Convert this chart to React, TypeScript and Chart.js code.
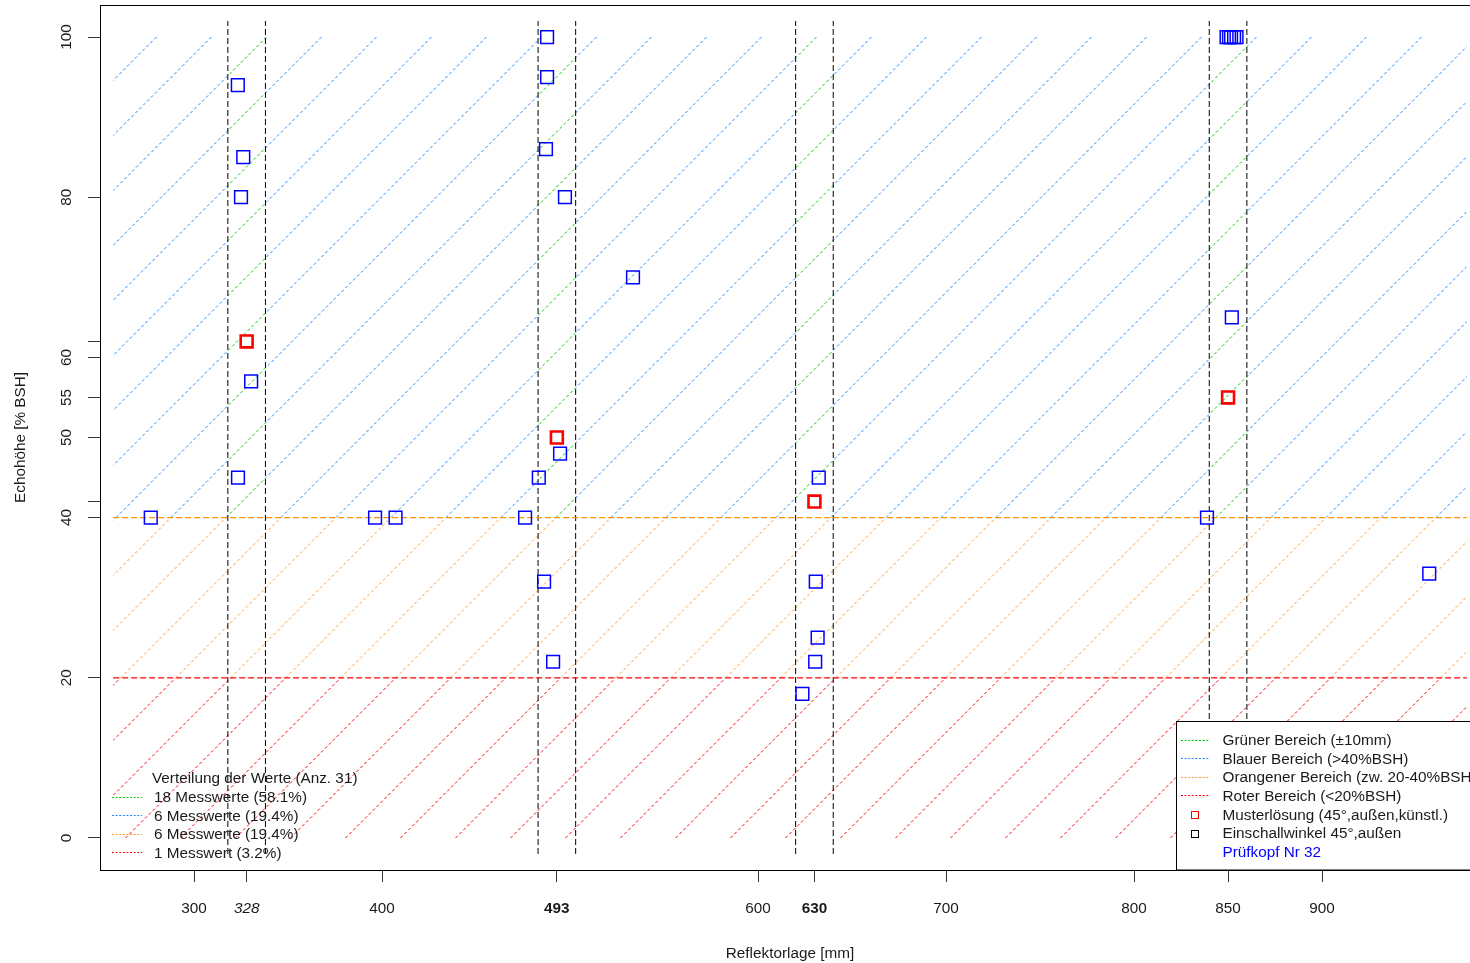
import React, { useEffect, useRef } from 'react';
import { Chart, registerables } from 'chart.js';

Chart.register(...registerables);

const FONT = '"Liberation Sans", Arial, Helvetica, sans-serif';
const TEXT_COLOR = '#1a1a1a';
const FONT_SIZE = 15.3;

// reference reflector positions (mm) and tolerance (±mm)
const REF_POSITIONS = [328, 493, 630, 850];
const TOLERANCE_MM = 10;

// measured values (Einschallwinkel 45°, außen)
const MEASURED_X = [
  277, 323.3, 326.2, 325, 330.4, 323.4,
  396.3, 407.2, 476.1, 487.8, 487.8, 487.2, 497.3, 533.5, 483.4, 494.7, 486.2, 491,
  632.3, 630.7, 631.7, 630.4, 623.6,
  849.2, 850.5, 851.6, 853.2, 854.5, 852, 838.8, 957,
];
const MEASURED_Y = [
  40, 94, 85, 80, 57, 45,
  40, 40, 40, 100, 95, 86, 80, 70, 45, 48, 32, 22,
  45, 32, 25, 22, 18,
  100, 100, 100, 100, 100, 65, 40, 33,
];

// sample solution (Musterlösung)
const SAMPLE_X = [328, 493, 630, 850];
const SAMPLE_Y = [62, 50, 42, 55];

const X_TICKS = [300, 328, 400, 493, 600, 630, 700, 800, 850, 900];
const X_TICK_LABELS = ['300', '328', '400', '493', '600', '630', '700', '800', '850', '900'];
const X_TICK_BOLD = [493, 630];
const X_TICK_ITALIC = [328];
const Y_TICKS = [0, 20, 40, 42, 50, 55, 60, 62, 80, 100];
const Y_TICK_LABELS = ['0', '20', '40', '', '50', '55', '60', '', '80', '100'];

const X_LIMITS = [250, 984];
const Y_LIMITS = [-4, 104];
const REGION_X = [257, 977];
const LEVEL_TOP = 100;
const LEVEL_BLUE = 40;
const LEVEL_RED = 20;
const LEVEL_BOTTOM = 0;
const REF_LINE_Y = [-2, 102];

const X_TITLE = 'Reflektorlage [mm]';
const Y_TITLE = 'Echohöhe [% BSH]';

const LEGEND_LEFT_TITLE = 'Verteilung der Werte (Anz. 31)';
const LEGEND_LEFT_LABELS = ['18 Messwerte (58.1%)', '6 Messwerte (19.4%)', '6 Messwerte (19.4%)', '1 Messwert (3.2%)'];
const LEGEND_RIGHT_LABELS = [
  'Grüner Bereich (±10mm)',
  'Blauer Bereich (>40%BSH)',
  'Orangener Bereich (zw. 20-40%BSH)',
  'Roter Bereich (<20%BSH)',
  'Musterlösung (45°,außen,künstl.)',
  'Einschallwinkel 45°,außen',
  'Prüfkopf Nr 32',
];

const C_GREEN = '#00cc00';
const C_BLUE_HATCH = '#1e88ff';
const C_ORANGE_HATCH = '#ff9a30';
const C_ORANGE_LINE = '#ff9000';
const C_RED = '#ff0000';
const C_POINT = '#0000ff';

const HATCH_SPACING = 55;
const HATCH_PHASE = 28.5;

function hatch(ctx: CanvasRenderingContext2D, r: number[], holes: number[][], color: string) {
  const [x0, y0, x1, y1] = r;
  ctx.save();
  ctx.beginPath();
  ctx.rect(x0, y0, x1 - x0, y1 - y0);
  holes.forEach((h) => ctx.rect(h[0], h[1], h[2] - h[0], h[3] - h[1]));
  ctx.clip('evenodd');
  ctx.strokeStyle = color;
  ctx.lineWidth = 1;
  ctx.setLineDash([3, 2.5]);
  ctx.beginPath();
  const cMin = x0 + y0;
  const cMax = x1 + y1;
  let c = Math.ceil((cMin - HATCH_PHASE) / HATCH_SPACING) * HATCH_SPACING + HATCH_PHASE;
  for (; c <= cMax + 1; c += HATCH_SPACING) {
    ctx.moveTo(c - y1, y1);
    ctx.lineTo(c - y0, y0);
  }
  ctx.stroke();
  ctx.restore();
}

const hatchPlugin = {
  id: 'rHatch',
  beforeDatasetsDraw(chart: any) {
    const { ctx } = chart;
    const xs = chart.scales.x;
    const ys = chart.scales.y;
    const X0 = xs.getPixelForValue(REGION_X[0]);
    const X1 = xs.getPixelForValue(REGION_X[1]);
    const yTop = ys.getPixelForValue(LEVEL_TOP);
    const yB = ys.getPixelForValue(LEVEL_BLUE);
    const yR = ys.getPixelForValue(LEVEL_RED);
    const yBot = ys.getPixelForValue(LEVEL_BOTTOM);
    const bands = REF_POSITIONS.map((p) => [
      xs.getPixelForValue(p - TOLERANCE_MM), yTop, xs.getPixelForValue(p + TOLERANCE_MM), yB,
    ]);
    hatch(ctx, [X0, yTop, X1, yB], bands, C_BLUE_HATCH);
    bands.forEach((b) => hatch(ctx, b, [], C_GREEN));
    hatch(ctx, [X0, yB, X1, yR], [], C_ORANGE_HATCH);
    hatch(ctx, [X0, yR, X1, yBot], [], C_RED);
  },
};

function sampleLine(ctx: CanvasRenderingContext2D, x0: number, x1: number, y: number, color: string) {
  ctx.save();
  ctx.strokeStyle = color;
  ctx.lineWidth = 1;
  ctx.setLineDash([2, 1.6]);
  ctx.beginPath();
  ctx.moveTo(x0, Math.round(y) + 0.5);
  ctx.lineTo(x1, Math.round(y) + 0.5);
  ctx.stroke();
  ctx.restore();
}

const decorPlugin = {
  id: 'rDecor',
  afterDraw(chart: any) {
    const { ctx, chartArea } = chart;
    const ys = chart.scales.y;
    const { left, right, top, bottom } = chartArea;
    ctx.save();
    // box
    ctx.strokeStyle = '#000';
    ctx.lineWidth = 1;
    ctx.setLineDash([]);
    ctx.strokeRect(left + 0.5, top + 0.5, right - left, bottom - top);

    ctx.fillStyle = TEXT_COLOR;
    ctx.font = `${FONT_SIZE}px ${FONT}`;
    // y tick labels (rotated, R style)
    ys.ticks.forEach((t: any) => {
      const lab = Y_TICK_LABELS[Y_TICKS.indexOf(t.value)] ?? '';
      if (!lab) return;
      const py = ys.getPixelForValue(t.value);
      ctx.save();
      ctx.translate(left - 33, py);
      ctx.rotate(-Math.PI / 2);
      ctx.textAlign = 'center';
      ctx.textBaseline = 'middle';
      ctx.fillText(lab, 0, 0);
      ctx.restore();
    });
    // axis titles
    ctx.save();
    ctx.translate(left - 79, (top + bottom) / 2);
    ctx.rotate(-Math.PI / 2);
    ctx.textAlign = 'center';
    ctx.textBaseline = 'middle';
    ctx.fillText(Y_TITLE, 0, 0);
    ctx.restore();
    ctx.textAlign = 'center';
    ctx.textBaseline = 'middle';
    ctx.fillText(X_TITLE, (left + right) / 2, bottom + 84);

    // left legend (no box)
    ctx.textAlign = 'left';
    ctx.fillText(LEGEND_LEFT_TITLE, left + 52, bottom - 91);
    const leftColors = [C_GREEN, C_BLUE_HATCH, C_ORANGE_HATCH, C_RED];
    LEGEND_LEFT_LABELS.forEach((lab, i) => {
      const y = bottom - 72 + i * 18.6;
      sampleLine(ctx, left + 12, left + 42, y - 1.5, leftColors[i]);
      ctx.fillStyle = TEXT_COLOR;
      ctx.fillText(lab, left + 54, y);
    });

    // right legend (boxed)
    const bx = 1176.5;
    const by = 721.5;
    ctx.fillStyle = '#fff';
    ctx.fillRect(bx, by, chart.width - bx + 5, bottom - by);
    ctx.strokeStyle = '#000';
    ctx.lineWidth = 1;
    ctx.strokeRect(bx, by, chart.width - bx + 5, bottom - by);
    const rightColors = [C_GREEN, C_BLUE_HATCH, C_ORANGE_HATCH, C_RED];
    LEGEND_RIGHT_LABELS.forEach((lab, i) => {
      const y = 741 + i * 18.6;
      if (i < 4) {
        sampleLine(ctx, 1181, 1210, y - 1.5, rightColors[i]);
      } else if (i < 6) {
        ctx.save();
        ctx.strokeStyle = i === 4 ? C_RED : '#000';
        ctx.lineWidth = 1;
        ctx.strokeRect(1191.5, Math.round(y) - 3.5, 7, 7);
        ctx.restore();
      }
      ctx.fillStyle = i === 6 ? C_POINT : TEXT_COLOR;
      ctx.fillText(lab, 1222.5, y);
    });
    ctx.restore();
  },
};

function lineDataset(xs: number[], ysv: number[], color: string, width = 1) {
  return {
    type: 'scatter' as const,
    data: xs.map((x, i) => ({ x, y: ysv[i] })),
    showLine: true,
    borderColor: color,
    backgroundColor: color,
    borderWidth: width,
    borderDash: [6, 3],
    pointRadius: 0,
    fill: false,
    order: 2,
  };
}

export default function App() {
  const ref = useRef<HTMLCanvasElement>(null);
  useEffect(() => {
    const canvas = ref.current;
    if (!canvas) return;
    Chart.defaults.font.family = FONT;
    const refLines = REF_POSITIONS.flatMap((p) => [
      lineDataset([p - TOLERANCE_MM, p - TOLERANCE_MM], REF_LINE_Y, '#000'),
      lineDataset([p + TOLERANCE_MM, p + TOLERANCE_MM], REF_LINE_Y, '#000'),
    ]);
    const chart = new Chart(canvas, {
      type: 'scatter',
      data: {
        datasets: [
          {
            label: 'Musterlösung',
            data: SAMPLE_X.map((x, i) => ({ x, y: SAMPLE_Y[i] })),
            pointStyle: 'rect',
            pointRadius: 8.4,
            borderColor: C_RED,
            backgroundColor: 'rgba(0,0,0,0)',
            borderWidth: 2.6,
            order: 0,
          },
          {
            label: 'Einschallwinkel 45°,außen',
            data: MEASURED_X.map((x, i) => ({ x, y: MEASURED_Y[i] })),
            pointStyle: 'rect',
            pointRadius: 9,
            borderColor: C_POINT,
            backgroundColor: 'rgba(0,0,0,0)',
            borderWidth: 1.5,
            order: 1,
          },
          lineDataset([REGION_X[0], REGION_X[1]], [LEVEL_BLUE, LEVEL_BLUE], C_ORANGE_LINE, 1.4),
          lineDataset([REGION_X[0], REGION_X[1]], [LEVEL_RED, LEVEL_RED], C_RED, 1.2),
          ...refLines,
        ] as any,
      },
      options: {
        responsive: false,
        animation: false,
        events: [],
        layout: { autoPadding: false, padding: { top: 5, right: 20, left: 0, bottom: 0 } },
        plugins: { legend: { display: false }, tooltip: { enabled: false } },
        scales: {
          x: {
            type: 'linear',
            min: X_LIMITS[0],
            max: X_LIMITS[1],
            afterFit: (s: any) => { s.height = 93; s.paddingLeft = 0; s.paddingRight = 0; s.paddingTop = 0; s.paddingBottom = 0; },
            afterBuildTicks: (s: any) => { s.ticks = X_TICKS.map((v) => ({ value: v })); },
            ticks: {
              autoSkip: false,
              maxRotation: 0,
              minRotation: 0,
              padding: 18,
              color: TEXT_COLOR,
              callback: (v: any) => X_TICK_LABELS[X_TICKS.indexOf(Number(v))] ?? '',
              font: (c: any) => {
                const v = c.tick ? c.tick.value : 0;
                return {
                  family: FONT,
                  size: FONT_SIZE,
                  weight: X_TICK_BOLD.includes(v) ? 'bold' : 'normal',
                  style: X_TICK_ITALIC.includes(v) ? 'italic' : 'normal',
                };
              },
            },
            grid: { drawOnChartArea: false, drawTicks: true, tickLength: 12, color: '#333', lineWidth: 1 },
            border: { display: false },
          },
          y: {
            type: 'linear',
            min: Y_LIMITS[0],
            max: Y_LIMITS[1],
            afterFit: (s: any) => { s.width = 100; s.paddingLeft = 0; s.paddingRight = 0; s.paddingTop = 0; s.paddingBottom = 0; },
            afterBuildTicks: (s: any) => { s.ticks = Y_TICKS.map((v) => ({ value: v })); },
            ticks: { display: false },
            grid: { drawOnChartArea: false, drawTicks: true, tickLength: 12, color: '#333', lineWidth: 1 },
            border: { display: false },
          },
        },
      } as any,
      plugins: [hatchPlugin, decorPlugin],
    });
    return () => chart.destroy();
  }, []);
  return (
    <div style={{ position: 'absolute', left: 0, top: 0, width: 1470, height: 963, overflow: 'hidden', background: '#fff' }}>
      <canvas ref={ref} width={1500} height={963} style={{ display: 'block', width: 1500, height: 963 }} />
    </div>
  );
}
